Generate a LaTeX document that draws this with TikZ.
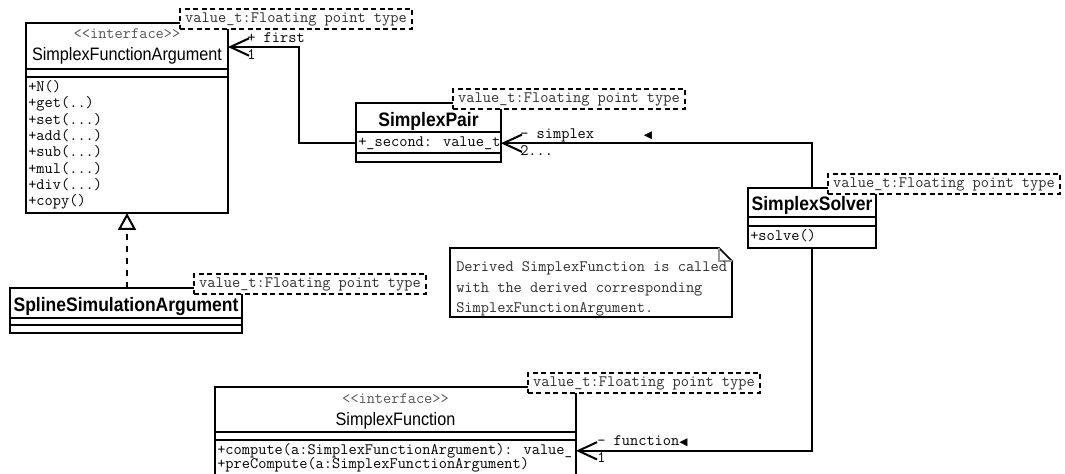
\documentclass[tikz,border=0pt]{standalone}
\usepackage{fontspec}
\setmainfont{Liberation Sans}
\newfontfamily\namefont[FakeStretch=0.9]{Liberation Sans}
\newfontfamily\umlsym{DejaVu Sans}
\usetikzlibrary{arrows.meta}
\definecolor{tgray}{HTML}{2E2E2E}
\definecolor{sgray}{HTML}{555555}
\definecolor{fgray}{HTML}{9A9A9A}
\newcommand\monotext{\ttfamily\fontsize{11.95pt}{13pt}\selectfont}
\tikzset{
  classbox/.style={draw=black, line width=1.5pt, fill=white, inner sep=0pt, outer sep=0pt, anchor=north west},
  sepline/.style={draw=black, line width=1.5pt},
  tmplbox/.style={draw=black, line width=1.5pt, fill=white, dash pattern=on 3.75pt off 2.6pt, inner sep=0pt, outer sep=0pt, anchor=north west, minimum width=174pt, minimum height=15pt, text=tgray, font=\monotext},
  member/.style={anchor=mid west, inner sep=0pt, font=\monotext, text=black},
  stereo/.style={anchor=mid, inner sep=0pt, font=\monotext, text=sgray},
  cname/.style={anchor=base, inner sep=0pt, font=\namefont\fontsize{13.5pt}{15pt}\selectfont},
  cbold/.style={anchor=base, inner sep=0pt, font=\namefont\bfseries\fontsize{14.6pt}{16pt}\selectfont},
  role/.style={anchor=mid west, inner sep=0pt, font=\monotext},
  dirmark/.style={anchor=mid, inner sep=0pt, font=\umlsym\fontsize{8pt}{9pt}\selectfont},
  assoc/.style={draw=black, line width=1.5pt, -{Straight Barb[length=14pt,width=13pt]}},
  realize/.style={draw=black, line width=1.5pt, dash pattern=on 4.5pt off 4.5pt, -{Triangle[open,length=12.75pt,width=13.5pt]}},
  notetext/.style={anchor=mid west, inner sep=0pt, font=\monotext, text=tgray},
}
\begin{document}
\begin{tikzpicture}[x=0.75pt,y=-0.75pt]
\clip (0,0) rectangle (1065,474);
\fill[white] (0,0) rectangle (1065,474);

% SimplexFunctionArgument
\node[classbox, minimum width=151.5pt, minimum height=142.5pt] (sfa) at (26,23) {};
\draw[sepline] (26,69) -- (228,69) (26,77) -- (228,77);
\node[stereo] (sfast) at (127,35) {<<interface>>};
\node[cname] (sfaname) at (127,61) {SimplexFunctionArgument};
\node[member] (sfam0) at (28,88) {+N()};
\node[member] (sfam1) at (28,104.3) {+get(..)};
\node[member] (sfam2) at (28,120.6) {+set(...)};
\node[member] (sfam3) at (28,136.9) {+add(...)};
\node[member] (sfam4) at (28,153.2) {+sub(...)};
\node[member] (sfam5) at (28,169.5) {+mul(...)};
\node[member] (sfam6) at (28,185.8) {+div(...)};
\node[member] (sfam7) at (28,202.1) {+copy()};

% SimplexPair
\node[classbox, minimum width=108.75pt, minimum height=44.25pt] (sp) at (356,103) {};
\draw[sepline] (356,132) -- (501,132) (356,153) -- (501,153);
\node[cbold] (spname) at (428.5,127) {SimplexPair};
\node[member] (spattr) at (358,143) {+\_second: value\_t};

% SimplexSolver
\node[classbox, minimum width=96pt, minimum height=45pt] (ss) at (748,188) {};
\draw[sepline] (748,217) -- (876,217) (748,226) -- (876,226);
\node[cbold] (ssname) at (812,210.5) {SimplexSolver};
\node[member] (ssm) at (750,237) {+solve()};

% SplineSimulationArgument
\node[classbox, minimum width=174pt, minimum height=33.75pt] (ssa) at (10,288) {};
\draw[sepline] (10,318) -- (242,318) (10,325) -- (242,325);
\node[cbold] (ssaname) at (126,311) {SplineSimulationArgument};

% SimplexFunction
\node[classbox, minimum width=270.75pt, minimum height=84.75pt] (sf) at (215,387) {};
\draw[sepline] (215,432) -- (576,432) (215,440) -- (576,440);
\node[stereo] (sfst) at (395.5,400) {<<interface>>};
\node[cname] (sfname) at (395.5,425) {SimplexFunction};
\begin{scope}
\clip (215,440) rectangle (570,480);
\node[member] (sfm1) at (217,451) {+compute(a:SimplexFunctionArgument): value\_t};
\node[member] (sfm2) at (217,465) {+preCompute(a:SimplexFunctionArgument)};
\end{scope}

% note
\draw[line width=1.2pt, fill=white] (450,248) -- (719,248) -- (732,261) -- (732,317) -- (450,317) -- cycle;
\draw[fgray, line width=1pt] (719,248) -- (719,261) -- (732,261);
\node[notetext] (note1) at (456,268) {Derived SimplexFunction is called};
\node[notetext] (note2) at (456,289) {with the derived corresponding};
\node[notetext] (note3) at (456,309) {SimplexFunctionArgument.};

% connectors
\draw[assoc] (sp.west |- spattr.west) -- ++(-57,0) |- ([yshift=-18pt]sfa.north east);
\draw[assoc] (ss.north) |- (sp.east |- spattr.east);
\draw[assoc] (ss.south) |- (sf.east |- sfm1.east);
\draw[realize] (sfa.south |- ssa.north) -- (sfa.south);

% role labels
\node[role] (rfirst) at (247,39) {+ first};
\node[role] (mfirst) at (247,56) {1};
\node[role] (rsimplex) at (520,135) {- simplex};
\node[role] (msimplex) at (520,152) {2...};
\node[dirmark] (dsimplex) at (648,135) {◀};
\node[role] (rfunction) at (597,442) {- function{\umlsym\fontsize{8pt}{9pt}\selectfont◀}};
\node[role] (mfunction) at (597,459) {1};

% templates
\node[tmplbox] (tsfa) at (180,9) {value\_t:Floating point type};
\node[tmplbox] (tsp) at (453,89) {value\_t:Floating point type};
\node[tmplbox] (tss) at (828,174) {value\_t:Floating point type};
\node[tmplbox] (tssa) at (194,274) {value\_t:Floating point type};
\node[tmplbox] (tsf) at (528,373) {value\_t:Floating point type};
\end{tikzpicture}
\end{document}
